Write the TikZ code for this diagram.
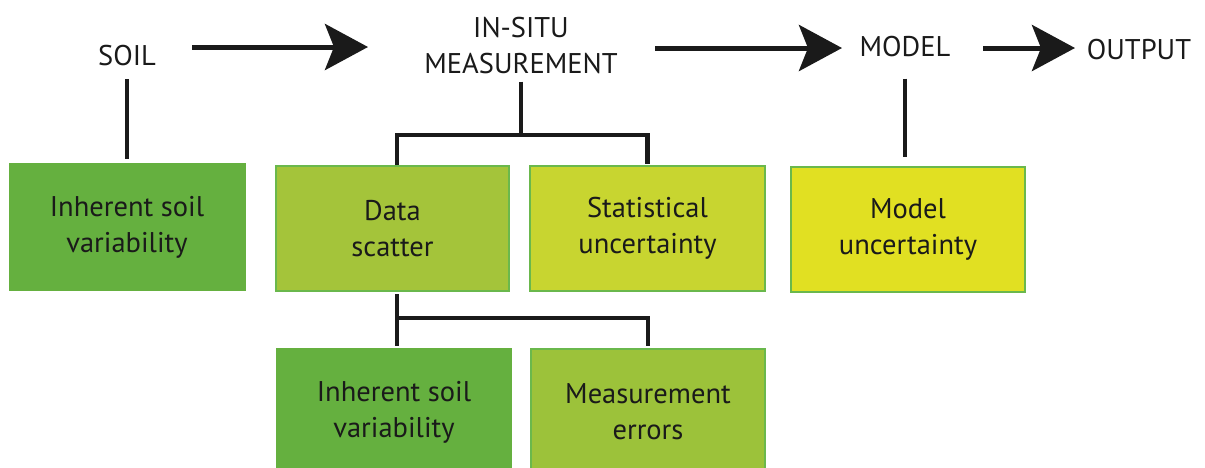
\documentclass[tikz,border=0pt]{standalone}
\usepackage{fontspec}
\setmainfont{PT Sans}
\usetikzlibrary{arrows.meta}

\definecolor{cSoil}{HTML}{65B03F}
\definecolor{cScatter}{HTML}{A4C43A}
\definecolor{cStat}{HTML}{C8D530}
\definecolor{cModel}{HTML}{E1E022}
\definecolor{cMeas}{HTML}{9CC23A}
\definecolor{cEdge}{HTML}{6AB84C}
\definecolor{ink}{HTML}{1A1A1A}

\begin{document}
\begin{tikzpicture}[x=1pt, y=-1pt,
  lbl/.style={font=\fontsize{28.5}{36}\selectfont, align=center, inner sep=0pt, text=ink},
  box/.style={rectangle, draw=cEdge, line width=2pt, inner sep=0pt, align=center,
              font=\fontsize{28.5}{36}\selectfont, text=ink},
  conn/.style={line width=4.8pt, draw=ink},
  flow/.style={line width=5pt, draw=ink, fill=ink,
               -{Stealth[length=43pt, width=46pt, inset=9pt]}}]

\useasboundingbox (0,0) rectangle (1205,467);
\clip (0,0) rectangle (1205,467);
\fill[white] (0,0) rectangle (1205,467);

% chain of stages
\node[lbl] (soil)   at (127,55.5) {SOIL};
\node[lbl] (insitu) at (521,46)   {IN-SITU\\MEASUREMENT};
\node[lbl] (model)  at (905,47)   {MODEL};
\node[lbl] (output) at (1139,50)  {OUTPUT};

% sources of uncertainty
\node[box, draw=cSoil, fill=cSoil, minimum width=235pt, minimum height=126pt]
  (soilvar) at (127,227) {Inherent soil\\variability};
\node[box, fill=cScatter, minimum width=233pt, minimum height=125pt]
  (scatter) at (392.5,228.5) {Data\\scatter};
\node[box, fill=cStat, minimum width=235pt, minimum height=125pt]
  (stat) at (647.5,228.5) {Statistical\\uncertainty};
\node[box, fill=cModel, minimum width=234pt, minimum height=125pt]
  (modelunc) at (908,229.5) {Model\\uncertainty};
\node[box, draw=cSoil, fill=cSoil, minimum width=234pt, minimum height=126pt]
  (inh2) at (394,412) {Inherent soil\\variability};
\node[box, fill=cMeas, minimum width=234pt, minimum height=126pt]
  (meas) at (648,412) {Measurement\\errors};

% flow arrows
\coordinate (a1s) at (192,47);
\coordinate (a1e) at (368,47);
\coordinate (a2s) at (655,48);
\coordinate (a2e) at (842,48);
\coordinate (a3s) at (983,48);
\coordinate (a3e) at (1075,48);
\draw[flow] (a1s) -- (a1e);
\draw[flow] (a2s) -- (a2e);
\draw[flow] (a3s) -- (a3e);

% bus junctions
\coordinate (b1) at (397,135);
\coordinate (b3) at (397,318);

% connectors
\draw[conn, shorten <=13pt, shorten >=4pt] (soil.south) -- (soil.south |- soilvar.north);
\draw[conn, shorten <=7pt] (insitu.south) -- (insitu.south |- b1);
\draw[conn, shorten >=1pt] (scatter.north -| b1) -- (b1) -| (stat.north);
\draw[conn, shorten <=21pt, shorten >=9pt] (model.south) -- (model.south |- modelunc.north);
\draw[conn, shorten <=2pt, shorten >=2pt] (scatter.south -| b3) -- (inh2.north -| b3);
\draw[conn, shorten >=2pt] (b3) -| (meas.north);
\end{tikzpicture}
\end{document}
